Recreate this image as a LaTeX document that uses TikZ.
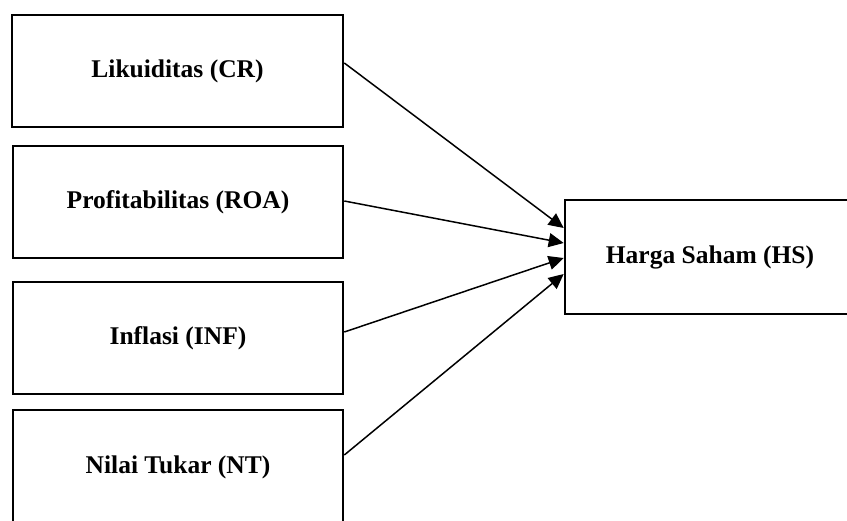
\documentclass[tikz,border=0pt]{standalone}
\usepackage{fontspec}
\setmainfont{Liberation Serif}
\usetikzlibrary{arrows.meta}
\tikzset{
  varbox/.style={draw=black, line width=2.6pt, minimum width=330pt, minimum height=112pt, inner sep=0pt, font=\fontsize{25.5}{30}\selectfont\bfseries},
  hsbox/.style={varbox, minimum width=290pt, minimum height=114pt},
  link/.style={line width=1.5pt, -{Triangle[length=15pt,width=14pt]}}
}
\begin{document}
\begin{tikzpicture}[x=1pt,y=-1pt]
\useasboundingbox (0,0) rectangle (847,520);
\clip (0,0) rectangle (847,520);
\node[varbox, minimum width=331pt] (b1) at (177.5,71) {Likuiditas (CR)};
\node[varbox] (b2) at (178,202) {Profitabilitas (ROA)};
\node[varbox] (b3) at (178,338) {Inflasi (INF)};
\node[varbox, minimum height=114pt] (b4) at (178,467) {Nilai Tukar (NT)};
\node[hsbox] (hs) at (710,257) {Harga Saham (HS)};
\draw[link] ([yshift=8pt]b1.east) -- ([yshift=29pt]hs.west);
\draw[link] ([yshift=1pt]b2.east) -- ([yshift=14pt]hs.west);
\draw[link] ([yshift=6pt]b3.east) -- ([yshift=-1pt]hs.west);
\draw[link] ([yshift=12pt]b4.east) -- ([yshift=-17pt]hs.west);
\end{tikzpicture}
\end{document}
